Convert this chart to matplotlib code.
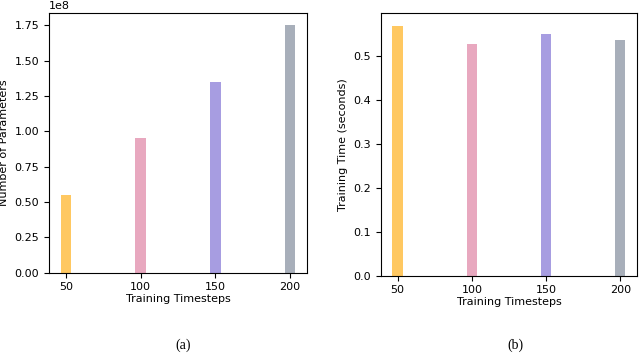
import matplotlib
matplotlib.use("Agg")
import matplotlib.pyplot as plt

# data
timesteps = [50, 100, 150, 200]
num_params = [0.55e8, 0.95e8, 1.35e8, 1.75e8]
train_time = [0.568, 0.527, 0.549, 0.535]
bar_colors = ["#FFC861", "#E8A8BF", "#A79DE1", "#A8AFBA"]

plt.rcParams["font.size"] = 8

fig = plt.figure(figsize=(6.4, 3.53), dpi=100)

# (a) number of parameters
ax1 = fig.add_axes([0.0766, 0.2275, 0.403, 0.7357])
ax1.bar(timesteps, num_params, width=7, color=bar_colors)
ax1.set_xticks(timesteps)
ax1.set_xlabel("Training Timesteps", labelpad=1)
ax1.set_ylabel("Number of Parameters")

# (b) training time
ax2 = fig.add_axes([0.595, 0.219, 0.4005, 0.743])
ax2.bar(timesteps, train_time, width=7, color=bar_colors)
ax2.set_xticks(timesteps)
ax2.set_xlabel("Training Timesteps", labelpad=1)
ax2.set_ylabel("Training Time (seconds)")

# sub-captions
fig.text(0.286, 0.012, "(a)", ha="center", family="Liberation Serif", fontsize=10)
fig.text(0.806, 0.012, "(b)", ha="center", family="Liberation Serif", fontsize=10)

fig.savefig("out.png", dpi=100)
